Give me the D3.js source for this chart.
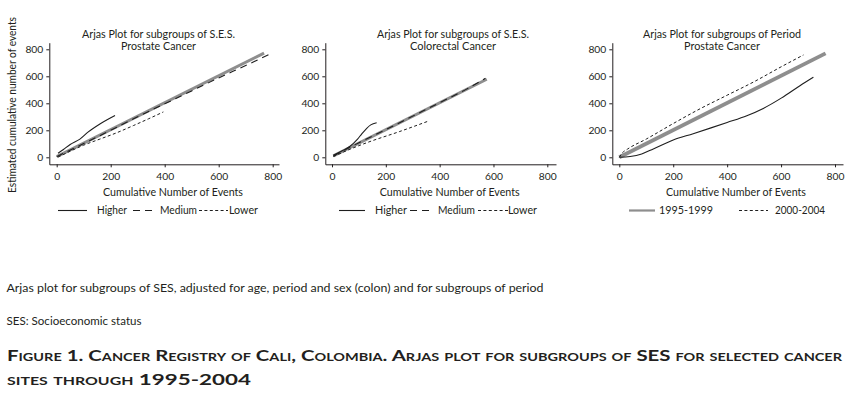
<!DOCTYPE html>
<html lang="en">
<head>
<meta charset="UTF-8">
<title>Arjas plots, Cali</title>
<style>
  body { margin: 0; background: #fff; }
  svg text { font-family: Lato, "Open Sans", sans-serif; fill: #231f20; }
</style>
</head>
<body>
<script src="https://cdn.jsdelivr.net/npm/d3@7"></script>
<script>
// tick values shared by the three panels
var xTicks = [0, 200, 400, 600, 800],
    yTicks = [0, 200, 400, 600, 800];

// panel 1: subgroups of S.E.S., prostate cancer
var sesProstateRef = [[0, 5], [768, 772]];
var sesProstateHigher = [[5, 30], [25, 58], [50, 95], [86, 135], [117, 188], [160, 247], [216, 310]];
var sesProstateMedium = [[0, 5], [100, 102], [200, 200], [300, 300], [400, 396], [500, 492], [600, 588], [700, 680], [795, 770]];
var sesProstateLower = [[5, 2], [50, 45], [100, 90], [160, 135], [220, 180], [284, 235], [340, 285], [395, 336]];

// panel 2: subgroups of S.E.S., colorectal cancer
var sesColorectalRef = [[5, 10], [575, 578]];
var sesColorectalHigher = [[5, 15], [40, 50], [67, 82], [95, 135], [110, 172], [129, 215], [144, 240], [166, 256]];
var sesColorectalMedium = [[5, 10], [100, 108], [200, 205], [300, 305], [400, 405], [500, 505], [570, 585]];
var sesColorectalLower = [[5, 5], [67, 60], [129, 108], [250, 190], [358, 268]];

// panel 3: subgroups of period, prostate cancer
var periodProstateRef = [[0, 0], [765, 770]];
var period9599 = [[0, 0], [40, 6], [83, 25], [126, 62], [200, 128], [274, 175], [340, 218], [400, 258], [473, 308], [534, 362], [602, 440], [670, 530], [720, 593]];
var period0004 = [[0, 0], [10, 30], [30, 60], [100, 135], [200, 250], [300, 360], [400, 460], [500, 560], [600, 670], [683, 758]];

var width = 849, height = 394;

var svg = d3.select('body').append('svg')
    .attr('width', width)
    .attr('height', height);
svg.append('rect').attr('width', width).attr('height', height).attr('fill', '#fff');

// line styles
var styles = {
    ref:    {stroke: '#8e8e8e', width: 3, dash: null},
    ref3:   {stroke: '#8e8e8e', width: 3.8, dash: null},
    refKey: {stroke: '#8e8e8e', width: 2.2, dash: null},
    solid:  {stroke: '#1e1e1e', width: 1.1, dash: null},
    long:   {stroke: '#1e1e1e', width: 1.1, dash: '7,5'},
    short:  {stroke: '#1e1e1e', width: 1, dash: '3,2.4'}
};

var panels = [
    {
        title: ['Arjas Plot for subgroups of S.E.S.', 'Prostate Cancer'],
        titleX: 158.5, titleW: [153, 75],
        left: 49.3, x0: 56.7, x800: 272.7, right: 279,
        series: [[sesProstateRef, 'ref'], [sesProstateLower, 'short'], [sesProstateMedium, 'long'], [sesProstateHigher, 'solid']],
        xTitleX: 173,
        legend: [
            {style: 'solid', x1: 58, x2: 87, label: 'Higher', tx: 97, tw: 30},
            {style: 'long', x1: 133, x2: 156, label: 'Medium', tx: 160, tw: 37},
            {style: 'short', x1: 199, x2: 228, label: 'Lower', tx: 229, tw: 29}
        ]
    },
    {
        title: ['Arjas Plot for subgroups of S.E.S.', 'Colorectal Cancer'],
        titleX: 453, titleW: [152, 86],
        left: 325.3, x0: 332, x800: 547.3, right: 556,
        series: [[sesColorectalRef, 'ref'], [sesColorectalLower, 'short'], [sesColorectalMedium, 'long'], [sesColorectalHigher, 'solid']],
        xTitleX: 449.7,
        legend: [
            {style: 'solid', x1: 339, x2: 365, label: 'Higher', tx: 375, tw: 32},
            {style: 'long', x1: 410, x2: 434, label: 'Medium', tx: 438, tw: 37},
            {style: 'short', x1: 478, x2: 508, label: 'Lower', tx: 508, tw: 29}
        ]
    },
    {
        title: ['Arjas Plot for subgroups of Period', 'Prostate Cancer'],
        titleX: 722, titleW: [158, 76],
        left: 612.3, x0: 619.3, x800: 835, right: 843,
        series: [[periodProstateRef, 'ref3'], [period0004, 'short'], [period9599, 'solid']],
        xTitleX: 736,
        legend: [
            {style: 'refKey', x1: 629, x2: 655, label: '1995-1999', tx: 659, tw: 54},
            {style: 'short', x1: 739, x2: 768, label: '2000-2004', tx: 775, tw: 50}
        ]
    }
];

// vertical scale is the same for all panels
var yBase = d3.scaleLinear().domain([0, 800]).range([157.3, 49.3]);
var yTop = 42.7, yBottom = 164.3;
var y = d3.scaleLinear()
    .domain([yBase.invert(yBottom), yBase.invert(yTop)])
    .range([yBottom, yTop]);

function applyStyle(sel, s) {
    sel.attr('fill', 'none')
        .attr('stroke', s.stroke)
        .attr('stroke-width', s.width)
        .attr('stroke-dasharray', s.dash);
    return sel;
}

function fit(sel, w) {
    return sel.attr('textLength', w).attr('lengthAdjust', 'spacingAndGlyphs');
}

panels.forEach(function(p) {
    var xb = d3.scaleLinear().domain([0, 800]).range([p.x0, p.x800]);
    var x = d3.scaleLinear()
        .domain([xb.invert(p.left), xb.invert(p.right)])
        .range([p.left, p.right]);

    var g = svg.append('g');

    // axes
    var xAxis = d3.axisBottom(x).tickValues(xTicks).tickSize(3).tickSizeOuter(0).tickPadding(5);
    var gx = g.append('g').attr('transform', 'translate(0,' + yBottom + ')').call(xAxis);
    var yAxis = d3.axisLeft(y).tickValues(yTicks).tickSize(3).tickSizeOuter(0).tickPadding(3);
    var gy = g.append('g').attr('transform', 'translate(' + p.left + ',0)').call(yAxis);
    [gx, gy].forEach(function(a) {
        a.selectAll('path.domain').attr('stroke', '#231f20').attr('stroke-width', 1);
        a.selectAll('.tick line').attr('stroke', '#231f20');
        a.selectAll('.tick text').attr('font-size', 10.3).attr('font-family', 'Lato, sans-serif').attr('fill', '#231f20');
    });

    // lines
    var line = d3.line()
        .curve(d3.curveMonotoneX)
        .x(function(d) { return x(d[0]); })
        .y(function(d) { return y(d[1]); });
    p.series.forEach(function(s) {
        applyStyle(g.append('path').datum(s[0]).attr('d', line), styles[s[1]]);
    });

    // titles
    fit(g.append('text').attr('x', p.titleX).attr('y', 37.5)
        .attr('text-anchor', 'middle').attr('font-size', 11.3).text(p.title[0]), p.titleW[0]);
    fit(g.append('text').attr('x', p.titleX).attr('y', 49.5)
        .attr('text-anchor', 'middle').attr('font-size', 11.3).text(p.title[1]), p.titleW[1]);

    fit(g.append('text').attr('x', p.xTitleX).attr('y', 196.3)
        .attr('text-anchor', 'middle').attr('font-size', 11).text('Cumulative Number of Events'), 140);

    // legend
    p.legend.forEach(function(l) {
        applyStyle(g.append('line').attr('x1', l.x1).attr('x2', l.x2)
            .attr('y1', 210.5).attr('y2', 210.5), styles[l.style]);
        fit(g.append('text').attr('x', l.tx).attr('y', 214.3)
            .attr('font-size', 11).text(l.label), l.tw);
    });
});

// y axis title, first panel only
fit(svg.append('text')
    .attr('transform', 'translate(16,105) rotate(-90)')
    .attr('text-anchor', 'middle')
    .attr('font-size', 10.5)
    .text('Estimated cumulative number of events'), 176);

// notes and caption
fit(svg.append('text').attr('x', 6.5).attr('y', 292).attr('font-size', 11)
    .text('Arjas plot for subgroups of SES, adjusted for age, period and sex (colon) and for subgroups of period'), 537);
fit(svg.append('text').attr('x', 6.5).attr('y', 325).attr('font-size', 11)
    .text('SES: Socioeconomic status'), 135);

var caption = [
    ['Figure 1. Cancer Registry of Cali, Colombia. Arjas plot for subgroups of SES for selected cancer', 835],
    ['sites through 1995-2004', 244]
];
caption.forEach(function(c, i) {
    fit(svg.append('text').attr('x', 7).attr('y', 361 + i * 24)
        .attr('font-size', 15.5).attr('font-weight', 'bold')
        .style('font-variant', 'small-caps')
        .text(c[0]), c[1]);
});
</script>
</body>
</html>
